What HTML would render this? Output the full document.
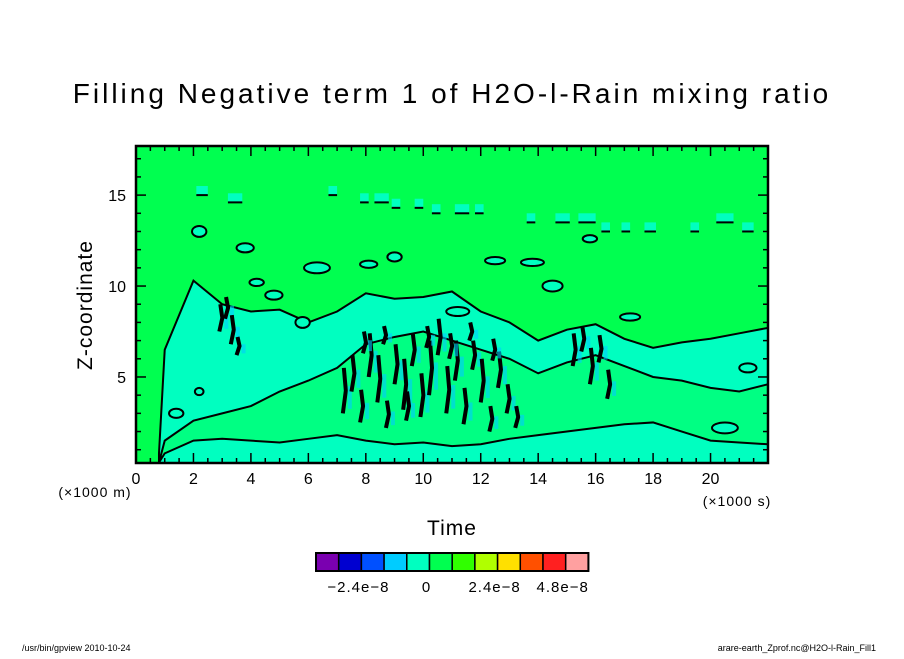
<!DOCTYPE html>
<html><head><meta charset="utf-8"><style>
body{margin:0;background:#fff;}
svg text{font-family:"Liberation Sans",sans-serif;fill:#000;}
</style></head><body>
<svg id="chart" width="904" height="654" viewBox="0 0 904 654">
<text x="452" y="103" font-size="28" text-anchor="middle" letter-spacing="3">Filling Negative term 1 of H2O-l-Rain mixing ratio</text>
<g id="plot"></g>
<g id="axes"></g>
<text x="92" y="305" font-size="21" text-anchor="middle" letter-spacing="1" transform="rotate(-90 92 305)">Z-coordinate</text>
<text x="95" y="497" font-size="14" text-anchor="middle" letter-spacing="1">(×1000 m)</text>
<text x="452" y="535" font-size="21" text-anchor="middle" letter-spacing="1">Time</text>
<text x="737" y="506" font-size="14" text-anchor="middle" letter-spacing="1">(×1000 s)</text>
<g id="cbar"></g>
<text x="22" y="651" font-size="9">/usr/bin/gpview  2010-10-24</text>
<text x="876" y="651" font-size="9" text-anchor="end">arare-earth_Zprof.nc@H2O-l-Rain_Fill1</text>
</svg>
<script>
const NS="http://www.w3.org/2000/svg";
const xTicks=[0,2,4,6,8,10,12,14,16,18,20];
const yTicks=[5,10,15];
const cyanT=[0.8,1,2,3,4,5,6,7,8,9,10,11,12,13,14,15,16,17,18,19,20,21,22];
const cyanTop=[0.8,6.5,10.3,9.0,8.6,8.7,8.0,8.6,9.6,9.3,9.4,9.7,8.6,8.0,7.0,7.6,7.9,7.1,6.6,6.9,7.1,7.4,7.7];
const bandLow=[0.3,0.8,1.5,1.6,1.5,1.4,1.6,1.8,1.5,1.3,1.4,1.2,1.3,1.6,1.8,2.0,2.2,2.4,2.5,2.0,1.5,1.4,1.3];
const bandHigh=[0.3,1.5,2.6,3.0,3.4,4.2,4.8,5.5,6.8,7.2,7.5,7.0,6.5,6.0,5.2,5.8,6.2,5.6,5.0,4.8,4.4,4.2,4.6];
const blobT=[2.2,3.8,6.3,4.2,8.1,9.0,12.5,13.8,4.8,5.8,11.2,14.5,17.2,15.8,2.2,1.4,20.5,21.3];
const blobZ=[13.0,12.1,11.0,10.2,11.2,11.6,11.4,11.3,9.5,8.0,8.6,10.0,8.3,12.6,4.2,3.0,2.2,5.5];
const blobW=[0.5,0.6,0.9,0.5,0.6,0.5,0.7,0.8,0.6,0.5,0.8,0.7,0.7,0.5,0.3,0.5,0.9,0.6];
const blobH=[0.6,0.5,0.6,0.4,0.4,0.5,0.4,0.4,0.5,0.6,0.5,0.6,0.4,0.4,0.4,0.5,0.6,0.5];
const capT=[2.1,3.2,6.7,7.8,8.3,8.9,9.7,10.3,11.1,11.8,13.6,14.6,15.4,16.2,16.9,17.7,19.3,20.2,21.1];
const capZ=[15.0,14.6,15.0,14.6,14.6,14.3,14.3,14.0,14.0,14.0,13.5,13.5,13.5,13.0,13.0,13.0,13.0,13.5,13.0];
const capW=[0.4,0.5,0.3,0.3,0.5,0.3,0.3,0.3,0.5,0.3,0.3,0.5,0.6,0.3,0.3,0.4,0.3,0.6,0.4];
const clutT=[2.9,3.1,3.3,3.5,7.2,7.5,7.8,8.1,8.4,8.7,9.0,9.3,9.6,9.9,10.2,10.5,10.8,11.1,11.4,11.7,12.0,12.3,12.6,12.9,13.2,15.2,15.5,15.8,16.1,16.4,7.9,8.6,9.4,10.1,10.9,11.6,12.4];
const clutZ=[7.5,8.2,6.8,6.2,3.0,4.2,2.5,5.0,3.6,2.2,4.6,3.2,5.6,2.8,4.0,6.2,3.0,4.8,2.4,5.4,3.6,2.0,4.4,3.0,2.2,5.6,6.4,4.6,5.8,3.8,6.3,6.8,2.6,6.6,6.0,7.0,5.9];
const clutL=[1.5,1.2,1.6,1.0,2.5,2.0,1.8,2.4,2.6,1.5,2.2,2.8,1.8,2.4,3.0,2.0,2.6,2.2,2.0,1.6,2.4,1.4,2.0,1.6,1.2,1.8,1.4,2.0,1.5,1.6,1.2,1.0,1.6,1.2,1.4,1.0,1.2];
const cbColors=["#7a00b0","#0000d0","#0050ff","#00ccff","#00ffc0","#00ff50","#30ff00","#b0ff00","#ffe000","#ff5000","#ff2020","#ffa0a0"];
const cbLabels=["-2.4e-8","0","2.4e-8","4.8e-8"];
const cbLabelIdx=[2,5,8,11];

const X0=136,X1=768,Y0=146,Y1=463,TMIN=0,TMAX=22,ZMIN=0.27,ZMAX=17.7;
const sx=t=>X0+(t-TMIN)/(TMAX-TMIN)*(X1-X0);
const sy=z=>Y1-(z-ZMIN)/(ZMAX-ZMIN)*(Y1-Y0);
const plot=document.getElementById('plot');
function mk(tag,at,parent){const e=document.createElementNS(NS,tag);for(const k in at)e.setAttribute(k,at[k]);parent.appendChild(e);return e;}

const bg=mk('rect',{x:X0,y:Y0,width:X1-X0,height:Y1-Y0,fill:"#00ff50"},plot);


const clip=mk('clipPath',{id:'pc'},plot);mk('rect',{x:X0,y:Y0,width:X1-X0,height:Y1-Y0},clip);
const g=mk('g',{'clip-path':'url(#pc)'},plot);

let d="M"+sx(cyanT[0])+","+sy(ZMIN);
cyanT.forEach((t,i)=>{d+=" L"+sx(t)+","+sy(cyanTop[i]);});
d+=" L"+sx(TMAX)+","+sy(ZMIN)+" Z";
const cy=mk('path',{d:d,fill:"#00ffc0",stroke:"#000","stroke-width":2},g);



let b="M"+sx(cyanT[0])+","+sy(bandLow[0]);
cyanT.forEach((t,i)=>{b+=" L"+sx(t)+","+sy(bandHigh[i]);});
for(let i=cyanT.length-1;i>=0;i--)b+=" L"+sx(cyanT[i])+","+sy(bandLow[i]);
b+=" Z";
const band=mk('path',{d:b,fill:"#00ff50",stroke:"#000","stroke-width":2,"fill-opacity":0.55},g);



blobT.forEach((t,i)=>{
 const e=mk('ellipse',{cx:sx(t),cy:sy(blobZ[i]),rx:(sx(blobW[i])-sx(0))/2,ry:(sy(0)-sy(blobH[i]))/2,fill:"#00ffc0",stroke:"#000","stroke-width":2},g);
 
 
});
capT.forEach((t,i)=>{
 const r=mk('rect',{x:sx(t),y:sy(capZ[i]+0.5),width:sx(capW[i])-sx(0),height:sy(0)-sy(0.5),fill:"#00ffc0"},g);
 
 
 const l=mk('line',{x1:sx(t),x2:sx(t+capW[i]),y1:sy(capZ[i]),y2:sy(capZ[i]),stroke:"#000","stroke-width":2},g);
 
 
});
clutT.forEach((t,i)=>{
 const l=mk('path',{d:"M"+sx(t)+","+sy(clutZ[i])+" l3,"+(sy(0)-sy(clutL[i]))*-0.5+" l-2,"+(sy(0)-sy(clutL[i]))*-0.5,fill:"none",stroke:"#000","stroke-width":4},g);
 
 
 const c=mk('rect',{x:sx(t)+5,y:sy(clutZ[i]+clutL[i]*0.6),width:4,height:sy(0)-sy(clutL[i]*0.5),fill:"#00ccff","fill-opacity":0.6},g);
 
 
});

const ax=document.getElementById('axes');
mk('rect',{x:X0,y:Y0,width:X1-X0,height:Y1-Y0,fill:"none",stroke:"#000","stroke-width":2.5},ax);
for(let t=0;t<=TMAX;t+=0.5){const m=(t%2===0)?10:5;
 mk('line',{x1:sx(t),x2:sx(t),y1:Y1,y2:Y1-m,stroke:"#000","stroke-width":1.5},ax);
 mk('line',{x1:sx(t),x2:sx(t),y1:Y0,y2:Y0+m,stroke:"#000","stroke-width":1.5},ax);}
for(let z=1;z<=17;z++){const m=(z%5===0)?10:5;
 mk('line',{x1:X0,x2:X0+m,y1:sy(z),y2:sy(z),stroke:"#000","stroke-width":1.5},ax);
 mk('line',{x1:X1,x2:X1-m,y1:sy(z),y2:sy(z),stroke:"#000","stroke-width":1.5},ax);}
xTicks.forEach(t=>{const e=mk('text',{x:sx(t),y:484,'font-size':16,'text-anchor':'middle'},ax);e.textContent=t;
 
 });
yTicks.forEach(z=>{const e=mk('text',{x:126,y:sy(z)+6,'font-size':16,'text-anchor':'end'},ax);e.textContent=z;
 
 });

const cb=document.getElementById('cbar');const CX=316,CW=22.7,CY=553,CH=18;
cbColors.forEach((c,i)=>{const r=mk('rect',{x:CX+i*CW,y:CY,width:CW,height:CH,fill:c,stroke:"#000","stroke-width":1.5},cb);
 
 });
mk('rect',{x:CX,y:CY,width:CW*cbColors.length,height:CH,fill:"none",stroke:"#000","stroke-width":2},cb);
cbLabels.forEach((s,i)=>{const e=mk('text',{x:CX+cbLabelIdx[i]*CW-3,y:592,'font-size':15,'text-anchor':'middle','letter-spacing':1},cb);e.textContent=s.replace(/-/g,"\u2212");
 
 });
</script>
</body></html>
